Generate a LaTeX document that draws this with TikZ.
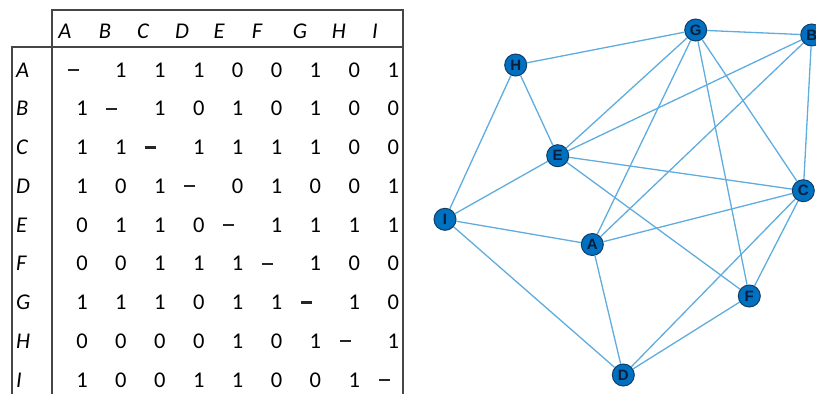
\documentclass[tikz,border=0pt]{standalone}
\usepackage{fontspec}
\setmainfont{Carlito}
\setsansfont{Liberation Sans}
\definecolor{tline}{RGB}{70,70,70}
\definecolor{edgeblue}{RGB}{95,172,222}
\definecolor{nodefill}{RGB}{0,112,192}
\definecolor{nodedraw}{RGB}{20,60,100}
\definecolor{nodetext}{RGB}{8,30,60}
\tikzset{
  tabrule/.style={draw=tline, line width=1.3pt},
  hdr/.style={font=\fontsize{22.5}{23}\selectfont\itshape, inner sep=0pt, anchor=center},
  cell/.style={font=\fontsize{22.5}{23}\selectfont, inner sep=0pt, anchor=center},
  dashcell/.style={fill=black!85, minimum width=11pt, minimum height=2.2pt, inner sep=0pt, anchor=center},
  vertex/.style={circle, fill=nodefill, draw=nodedraw, line width=1pt, minimum size=22pt, inner sep=0pt,
    font=\sffamily\bfseries\fontsize{15}{15}\selectfont, text=nodetext},
  link/.style={draw=edgeblue, line width=1.3pt}
}
\begin{document}
\begin{tikzpicture}[x=1pt,y=-1pt]
\useasboundingbox (0,0) rectangle (816,394);
% table frame
\draw[tabrule] (52,394) -- (52,10) -- (403,10) -- (403,394);
\draw[tabrule] (12,394) -- (12,47) -- (403,47);
% header letters
\foreach \L/\X in {A/65,B/105,C/143,D/182,E/219,F/257,G/300,H/339,I/375}
  \node[hdr] (h\L) at (\X,31) {\L};
% row labels
\foreach \L [count=\r] in {A,B,C,D,E,F,G,H,I}
  \node[hdr, anchor=west] (r\L) at (16,{70+38.75*(\r-1)}) {\L};
% matrix values
\foreach \row [count=\r] in {
  {d,1,1,1,0,0,1,0,1},
  {1,d,1,0,1,0,1,0,0},
  {1,1,d,1,1,1,1,0,0},
  {1,0,1,d,0,1,0,0,1},
  {0,1,1,0,d,1,1,1,1},
  {0,0,1,1,1,d,1,0,0},
  {1,1,1,0,1,1,d,1,0},
  {0,0,0,0,1,0,1,d,1},
  {1,0,0,1,1,0,0,1,d}} {
  \foreach \v [count=\c] in \row {
    \if\v d
      \node[dashcell] (m-\r-\c) at ({82+38.9*(\c-1)-9},{70+38.75*(\r-1)}) {};
    \else
      \node[cell] (m-\r-\c) at ({82+38.9*(\c-1)},{70+38.75*(\r-1)}) {\v};
    \fi
  }
}
% graph nodes
\node[vertex] (G) at (695.7,30) {G};
\node[vertex] (B) at (811.7,35) {B};
\node[vertex] (H) at (515.7,65) {H};
\node[vertex] (E) at (557.7,155.7) {E};
\node[vertex] (C) at (803.3,190.7) {C};
\node[vertex] (I) at (445,219.3) {I};
\node[vertex] (A) at (592.3,244.5) {A};
\node[vertex] (F) at (749.3,296) {F};
\node[vertex] (D) at (623.3,375) {D};
% edges
\foreach \p/\q in {A/B,A/C,A/D,A/G,A/I,B/C,B/E,B/G,C/D,C/E,C/F,C/G,D/F,D/I,E/F,E/G,E/H,E/I,F/G,G/H,H/I}
  \draw[link] (\p) -- (\q);
\end{tikzpicture}
\end{document}
